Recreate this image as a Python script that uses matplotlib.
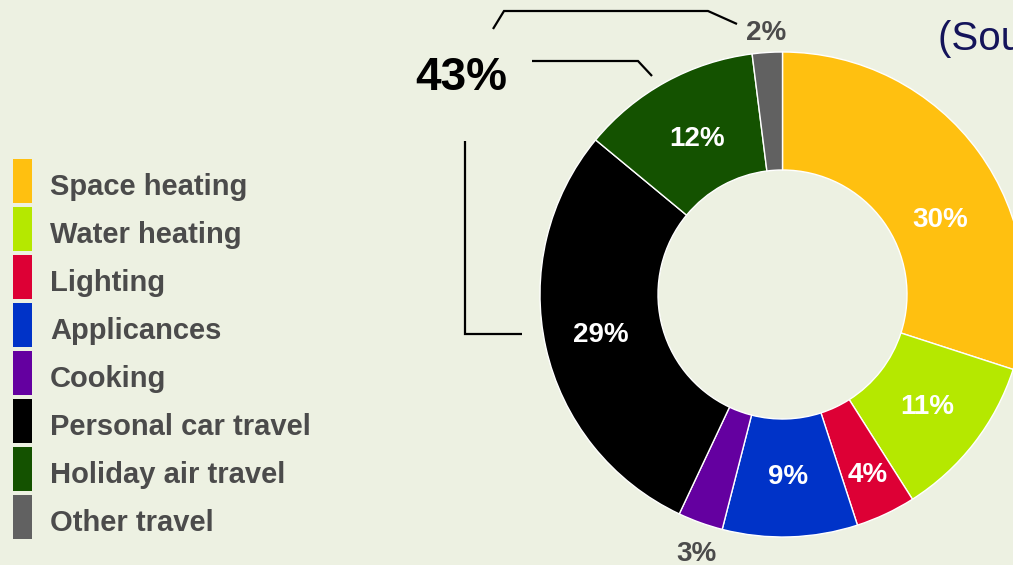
import numpy as np
import matplotlib
matplotlib.use("Agg")
import matplotlib.pyplot as plt
from matplotlib.patches import Rectangle

# Household carbon footprint shares (%)
categories = ["Space heating", "Water heating", "Lighting", "Applicances",
              "Cooking", "Personal car travel", "Holiday air travel", "Other travel"]
shares = [30, 11, 4, 9, 3, 29, 12, 2]
colors = ["#FFC010", "#B5E800", "#DD0035", "#0033C8",
          "#6400A0", "#000000", "#145200", "#616161"]
travel_total = "43%"

W, H = 1013, 565
BG = "#EDF1E2"
TXT = "#4B4B4B"

fig = plt.figure(figsize=(W / 100, H / 100), dpi=100, facecolor=BG)
ax = fig.add_axes([0, 0, 1, 1])
ax.set_facecolor(BG)


def Y(y):
    """Convert a top-down pixel row to axes y."""
    return H - y


cx, cy = 782.5, Y(294.5)
R, r_in = 242.5, 124.5

wedges, _ = ax.pie(shares, colors=colors, startangle=90, counterclock=False,
                   center=(cx, cy), radius=R, frame=True,
                   wedgeprops=dict(width=R - r_in, edgecolor="white", linewidth=1.0))
ax.set_xlim(0, W)
ax.set_ylim(0, H)
ax.set_aspect("equal")
ax.axis("off")

# value labels, placed around each wedge's mid angle
label_radius = [174, 183, 199, 183, 273, 186, 178, 262]
angle_shift = [-10.7, 0, 0, 0, 1.4, 0, 0, 0]
outside = [False, False, False, False, True, False, False, True]
for w, v, rr, da, out in zip(wedges, shares, label_radius, angle_shift, outside):
    mid = np.deg2rad((w.theta1 + w.theta2) / 2 + da)
    x = cx + rr * np.cos(mid)
    y = cy + rr * np.sin(mid)
    ax.text(x, y, f"{v}%", ha="center", va="center", fontsize=20,
            fontweight="bold", family="Liberation Sans",
            color=TXT if out else "white")

# legend
for i, (name, c) in enumerate(zip(categories, colors)):
    top = 159 + 48 * i
    ax.add_patch(Rectangle((13, Y(top + 44)), 19, 44, facecolor=c,
                           edgecolor="none"))
    ax.text(50, Y(top + 36), name, ha="left", va="baseline", fontsize=21,
            fontweight="bold", family="Liberation Sans", color=TXT)

# travel bracket and total
lk = dict(color="black", lw=1.6, solid_capstyle="butt", solid_joinstyle="miter")
ax.plot([532, 638, 652], [Y(61), Y(61), Y(76)], **lk)
ax.plot([465, 465, 522], [Y(141), Y(334), Y(334)], **lk)
ax.text(461, Y(78), travel_total, ha="center", va="center", fontsize=33,
        fontweight="bold", family="Liberation Sans", color="black")

# leader for the small "other travel" wedge
ax.plot([493, 504, 708, 737], [Y(29), Y(11), Y(11), Y(24)], **lk)

ax.text(938, Y(50), "(Source: DECC)", ha="left", va="baseline", fontsize=29,
        family="Liberation Sans", color="#14145A")

fig.savefig("out.png", dpi=100, facecolor=BG)
